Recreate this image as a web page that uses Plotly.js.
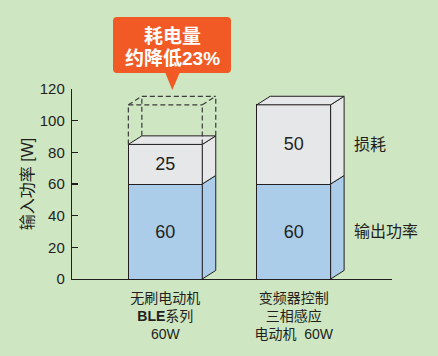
<!DOCTYPE html>
<html><head><meta charset="utf-8">
<script src="https://cdn.plot.ly/plotly-3.0.1.min.js"></script>
<style>html,body{margin:0;padding:0;background:#cee6c1}</style>
</head><body><div id="chart" style="width:438px;height:356px"></div>
<script>
// ---- data ----
const categories = ['无刷电动机<br><b>BLE</b>系列<br>60W', '变频器控制<br>三相感应<br>电动机  60W'];
const outputPower = [60, 60];
const lossPower = [25, 50];
const segmentNames = ['输出功率', '损耗'];
const yTicks = [0, 20, 40, 60, 80, 100, 120];
const calloutLines = ['耗电量', '约降低23%'];

// ---- style ----
const BG = '#cee6c1', BLUE = '#abcdea', GRAY = '#e6e7e8', INK = '#231f20', ORANGE = '#f15a24';
const FONT = 'Liberation Sans, Arial, Noto Sans CJK SC, sans-serif';
const xs = categories.map((_, i) => i);
const W = 0.576;           // bar width (category units)
const DX = 0.105, DY = 5.4; // 3D depth offsets (data units)
const L = 72, T = 89, PW = 320, PH = 190;
const px = x => (x - L) / PW, py = y => (T + PH - y) / PH;

const traces = [
  {type: 'bar', x: xs, y: outputPower, width: W, name: segmentNames[0],
   marker: {color: BLUE, line: {color: INK, width: 1}},
   text: outputPower.map(String), textposition: 'inside', insidetextanchor: 'middle',
   textfont: {size: 18, color: INK, family: FONT}, constraintext: 'none', textangle: 0, hoverinfo: 'none'},
  {type: 'bar', x: xs, y: lossPower, width: W, name: segmentNames[1],
   marker: {color: GRAY, line: {color: INK, width: 1}},
   text: lossPower.map(String), textposition: 'inside', insidetextanchor: 'middle',
   textfont: {size: 18, color: INK, family: FONT}, constraintext: 'none', textangle: 0, hoverinfo: 'none'}
];

const shapes = [];
const P = pts => 'M' + pts.map(p => p[0] + ',' + p[1]).join(' L') + ' Z';
xs.forEach((x, i) => {
  const x0 = x - W / 2, x1 = x + W / 2;
  const segs = [[0, outputPower[i], BLUE], [outputPower[i], outputPower[i] + lossPower[i], GRAY]];
  segs.forEach(([a, b, c]) => {
    shapes.push({type: 'path', xref: 'x', yref: 'y', fillcolor: c, line: {color: INK, width: 1},
      path: P([[x1, a], [x1 + DX, a + DY], [x1 + DX, b + DY], [x1, b]])});
  });
  const top = outputPower[i] + lossPower[i];
  shapes.push({type: 'path', xref: 'x', yref: 'y', fillcolor: GRAY, line: {color: INK, width: 1},
    path: P([[x0, top], [x0 + DX, top + DY], [x1 + DX, top + DY], [x1, top]])});
});
// dashed ghost box on bar 1 up to bar 2 total
{
  const x0 = xs[0] - W / 2, x1 = xs[0] + W / 2;
  const base = outputPower[0] + lossPower[0];
  const ghost = outputPower[1] + lossPower[1];
  const dl = {color: '#3a3a3a', width: 1.2, dash: '5px,3px'};
  const seg = (a, b, c, d) => shapes.push({type: 'line', xref: 'x', yref: 'y', x0: a, y0: b, x1: c, y1: d, line: dl});
  seg(x0, base, x0, ghost);
  seg(x1, base, x1, ghost);
  seg(x0, ghost, x1, ghost);
  seg(x0 + DX, base + DY, x0 + DX, ghost + DY);
  seg(x1 + DX, base + DY, x1 + DX, ghost + DY);
  seg(x0 + DX, ghost + DY, x1 + DX, ghost + DY);
  seg(x0, ghost, x0 + DX, ghost + DY);
  seg(x1, ghost, x1 + DX, ghost + DY);
}
// callout box + pointer
{
  const a = 113, b = 231, c = 17, d = 73, r = 4;
  shapes.push({type: 'path', xref: 'paper', yref: 'paper', fillcolor: ORANGE, line: {width: 0},
    path: `M${px(a + r)},${py(c)} L${px(b - r)},${py(c)} Q${px(b)},${py(c)} ${px(b)},${py(c + r)} L${px(b)},${py(d - r)} Q${px(b)},${py(d)} ${px(b - r)},${py(d)} L${px(a + r)},${py(d)} Q${px(a)},${py(d)} ${px(a)},${py(d - r)} L${px(a)},${py(c + r)} Q${px(a)},${py(c)} ${px(a + r)},${py(c)} Z`});
  shapes.push({type: 'path', xref: 'paper', yref: 'paper', fillcolor: ORANGE, line: {width: 0},
    path: P([[px(165), py(72)], [px(180), py(72)], [px(172.3), py(90)]])});
}

const annotations = [
  {xref: 'x', yref: 'y', x: 1.452, y: outputPower[1] + lossPower[1] / 2, text: segmentNames[1], xanchor: 'left', yanchor: 'middle', showarrow: false, font: {size: 16, color: INK, family: FONT}},
  {xref: 'x', yref: 'y', x: 1.452, y: outputPower[1] / 2, text: segmentNames[0], xanchor: 'left', yanchor: 'middle', showarrow: false, font: {size: 16, color: INK, family: FONT}},
  {xref: 'paper', yref: 'paper', x: px(172), y: py(36), text: '<b>' + calloutLines[0] + '</b>', showarrow: false, xanchor: 'center', yanchor: 'middle', font: {size: 19, color: '#fff', family: FONT}},
  {xref: 'paper', yref: 'paper', x: px(172), y: py(58.5), text: '<b>' + calloutLines[1] + '</b>', showarrow: false, xanchor: 'center', yanchor: 'middle', font: {size: 19, color: '#fff', family: FONT}}
];

const layout = {
  width: 438, height: 356, paper_bgcolor: BG, plot_bgcolor: BG,
  margin: {l: L, r: 438 - L - PW, t: T, b: 356 - T - PH},
  barmode: 'stack', showlegend: false, font: {family: FONT, color: INK},
  xaxis: {range: [-0.727, 1.766], tickvals: xs, ticktext: categories, ticks: '', showgrid: false, zeroline: false,
          showline: true, linecolor: INK, linewidth: 1.2, tickfont: {size: 14, color: INK, family: FONT},
          ticklabelstandoff: 6, fixedrange: true},
  yaxis: {range: [0, 120], tickvals: yTicks, ticks: 'inside', ticklen: 6, tickcolor: INK, tickwidth: 1.2,
          showline: true, linecolor: INK, linewidth: 1.2, showgrid: false, zeroline: false,
          tickfont: {size: 15, color: INK, family: FONT}, automargin: false, ticklabelstandoff: 3,
          title: {text: '输入功率 [W]', font: {size: 16, color: INK, family: FONT}, standoff: 2}},
  shapes, annotations
};
Plotly.newPlot('chart', traces, layout, {displayModeBar: false, staticPlot: true});
</script></body></html>
